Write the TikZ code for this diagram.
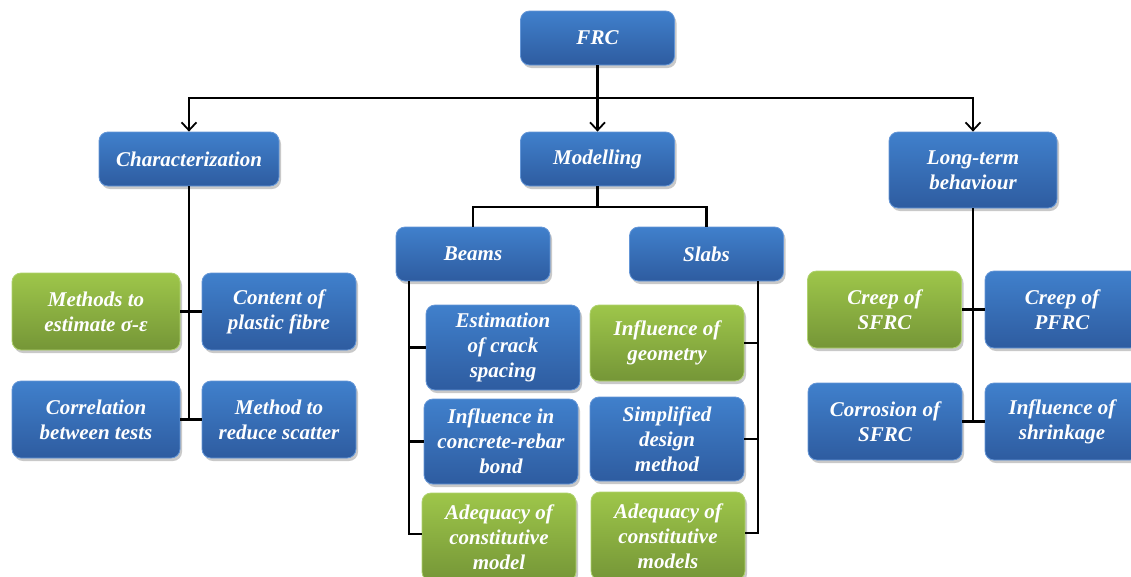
\documentclass[tikz,border=0pt]{standalone}
\usepackage{fontspec}
\setmainfont{Liberation Serif}
\usetikzlibrary{shadows,arrows.meta}
\definecolor{bluetop}{RGB}{64,128,204}
\definecolor{bluebot}{RGB}{46,92,160}
\definecolor{blueedge}{RGB}{100,150,215}
\definecolor{greentop}{RGB}{158,198,74}
\definecolor{greenbot}{RGB}{117,150,55}
\definecolor{greenedge}{RGB}{175,210,110}
\tikzset{
  box/.style={rounded corners=9pt, minimum width=154pt, minimum height=54pt,
    text=white, align=center, inner sep=2pt,
    font=\fontsize{21}{25}\selectfont\bfseries\itshape,
    drop shadow={shadow xshift=2pt, shadow yshift=-3pt, opacity=0.35, fill=black!60}},
  bluebox/.style={box, top color=bluetop, bottom color=bluebot, draw=blueedge, line width=0.8pt},
  greenbox/.style={box, top color=greentop, bottom color=greenbot, draw=greenedge, line width=0.8pt},
  conn/.style={line width=2.2pt, black},
  arr/.style={conn, -{Straight Barb[length=8pt,width=15pt,line width=1.8pt]}}
}
\begin{document}
\begin{tikzpicture}[x=1pt,y=-1pt]
\useasboundingbox[fill=white] (0,0) rectangle (1131,576);
\clip (0,0) rectangle (1131,576);
% top levels
\node[bluebox] (frc) at (597.5,38) {FRC};
\node[bluebox, minimum width=180pt] (char) at (189,159) {Characterization};
\node[bluebox] (mod) at (597.5,159) {Modelling};
\node[bluebox, minimum width=168pt, minimum height=76pt] (lt) at (973,170) {Long-term\\behaviour};
\node[bluebox] (beams) at (473,254) {Beams};
\node[bluebox] (slabs) at (706.5,254) {Slabs};
% characterization children
\node[greenbox, minimum width=168pt, minimum height=77pt] (ma) at (96,311.5) {Methods to\\estimate σ-ε};
\node[bluebox, minimum height=77pt] (cp) at (279,311.5) {Content of\\plastic fibre};
\node[bluebox, minimum width=168pt, minimum height=77pt] (cb) at (96,419.5) {Correlation\\between tests};
\node[bluebox, minimum height=77pt] (mr) at (279,419.5) {Method to\\reduce scatter};
% beams children
\node[bluebox, minimum height=85pt] (ecs) at (503,347.5) {Estimation\\of crack\\spacing};
\node[bluebox, minimum height=85pt] (icb) at (501,441.5) {Influence in\\concrete-rebar\\bond};
\node[greenbox, minimum height=88pt] (acm) at (499,537) {Adequacy of\\constitutive\\model};
% slabs children
\node[greenbox, minimum height=76pt] (ig) at (667,343) {Influence of\\geometry};
\node[bluebox, minimum height=84pt] (sdm) at (667,439) {Simplified\\design\\method};
\node[greenbox, minimum height=88pt] (acms) at (668,536) {Adequacy of\\constitutive\\models};
% long-term children
\node[greenbox, minimum height=77pt] (cs) at (884.5,309.5) {Creep of\\SFRC};
\node[bluebox, minimum height=77pt] (cpf) at (1062,309.5) {Creep of\\PFRC};
\node[bluebox, minimum height=77pt] (cor) at (885,421.5) {Corrosion of\\SFRC};
\node[bluebox, minimum height=77pt] (shr) at (1062,421.5) {Influence of\\shrinkage};
% connectors from FRC
\coordinate (j1) at (597.5,98);
\draw[arr] (frc.south) -- (mod.north);
\draw[arr] (j1) -| (char.north);
\draw[arr] (j1) -| (lt.north);
% modelling
\coordinate (j2) at (597.5,207);
\draw[conn] (mod.south) -- (j2);
\draw[conn] (j2) -| (beams.north);
\draw[conn] (j2) -| (slabs.north);
% characterization tree
\draw[conn] (char.south) -- (char.south |- cb.east);
\draw[conn] (ma.east) -- (cp.west);
\draw[conn] (cb.east) -- (mr.west);
% beams tree
\coordinate (bt) at (409,281);
\draw[conn] (bt) |- ([yshift=3pt]acm.west);
\draw[conn] (bt |- ecs.west) -- (ecs.west);
\draw[conn] (bt |- icb.west) -- (icb.west);
% slabs tree
\coordinate (st) at (758,281);
\draw[conn] (st) |- ([yshift=3pt]acms.east);
\draw[conn] (st |- ig.east) -- (ig.east);
\draw[conn] (st |- sdm.east) -- (sdm.east);
% long-term tree
\draw[conn] (lt.south) -- (lt.south |- cor.east);
\draw[conn] (cs.east) -- (cpf.west);
\draw[conn] (cor.east) -- (shr.west);
\end{tikzpicture}
\end{document}
